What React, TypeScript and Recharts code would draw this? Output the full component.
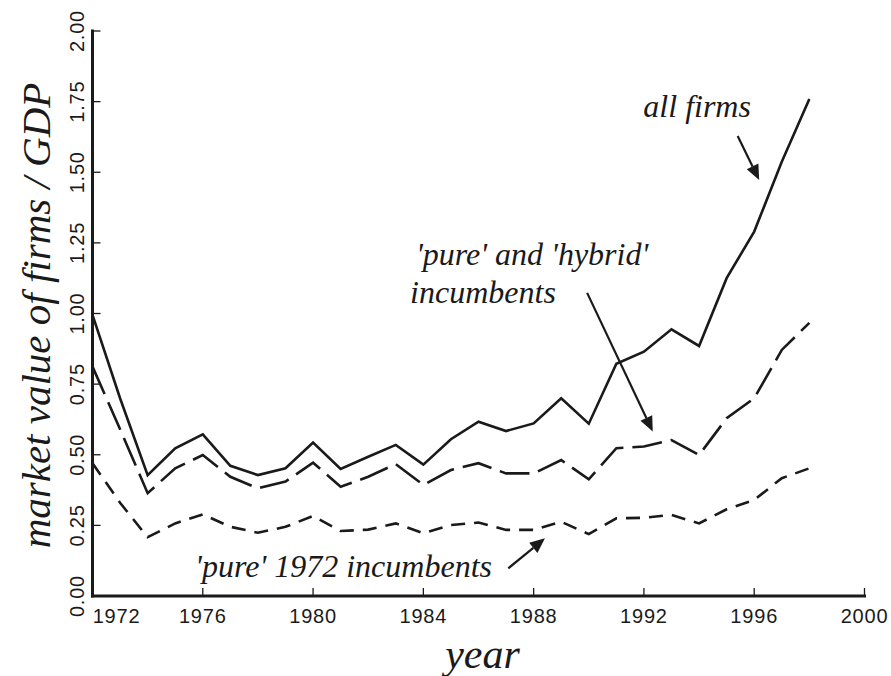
import React from 'react';
import { LineChart, Line, XAxis, YAxis, ReferenceLine, ReferenceDot } from 'recharts';

const years = [1972, 1973, 1974, 1975, 1976, 1977, 1978, 1979, 1980, 1981, 1982, 1983, 1984, 1985, 1986, 1987, 1988, 1989, 1990, 1991, 1992, 1993, 1994, 1995, 1996, 1997, 1998];
const allFirms = [0.995, 0.70, 0.428, 0.523, 0.572, 0.461, 0.428, 0.452, 0.543, 0.450, 0.493, 0.535, 0.465, 0.555, 0.617, 0.584, 0.611, 0.700, 0.610, 0.822, 0.865, 0.944, 0.885, 1.125, 1.290, 1.537, 1.759];
const pureHybrid = [0.812, 0.59, 0.364, 0.452, 0.499, 0.422, 0.381, 0.405, 0.472, 0.387, 0.422, 0.467, 0.393, 0.446, 0.470, 0.434, 0.434, 0.481, 0.413, 0.523, 0.529, 0.552, 0.499, 0.629, 0.700, 0.871, 0.967];
const pure1972 = [0.470, 0.33, 0.208, 0.257, 0.289, 0.245, 0.224, 0.245, 0.283, 0.230, 0.235, 0.257, 0.222, 0.251, 0.260, 0.234, 0.234, 0.263, 0.219, 0.275, 0.277, 0.287, 0.257, 0.307, 0.340, 0.417, 0.452];
const xTicks = [1972, 1976, 1980, 1984, 1988, 1992, 1996, 2000];
const yTicks = [0, 0.25, 0.5, 0.75, 1.0, 1.25, 1.5, 1.75, 2.0];

const data = years.map((year, i) => ({ year, all: allFirms[i], hybrid: pureHybrid[i], pure: pure1972[i] }));

const INK = '#1a1a1a';
const TICK_FONT = '"Liberation Sans", Arial, sans-serif';
const LABEL_FONT = '"Liberation Serif", "Times New Roman", serif';

const BottomTick = (props: any) => {
  const { x, y, payload, index } = props;
  const shift = index === 0 ? 24 : 0;
  return (
    <g>
      <line x1={x} y1={y} x2={x} y2={y - 8} stroke={INK} strokeWidth={1.3} />
      <text x={x + shift} y={y + 27} textAnchor="middle" fontFamily={TICK_FONT} fontSize={20} letterSpacing={0.8} fill={INK}>
        {payload.value}
      </text>
    </g>
  );
};

const LeftTick = (props: any) => {
  const { x, y, payload } = props;
  const cx = x - 15.5;
  return (
    <g>
      <line x1={x} y1={y} x2={x + 8} y2={y} stroke={INK} strokeWidth={1.3} />
      <text x={cx} y={y} dy="0.36em" textAnchor="middle" transform={`rotate(-90, ${cx}, ${y})`} fontFamily={TICK_FONT} fontSize={20} letterSpacing={0.8} fill={INK}>
        {Number(payload.value).toFixed(2)}
      </text>
    </g>
  );
};

const TopTick = (props: any) => {
  const { x, y } = props;
  return <line x1={x} y1={y} x2={x} y2={y + 8} stroke={INK} strokeWidth={1.3} />;
};

const RightTick = (props: any) => {
  const { x, y } = props;
  return <line x1={x} y1={y} x2={x - 8} y2={y} stroke={INK} strokeWidth={1.3} />;
};

const Arrow = (props: any) => {
  const { x1, y1, x2, y2 } = props;
  if ([x1, y1, x2, y2].some((v) => v == null || isNaN(v))) return null;
  const dx = x2 - x1;
  const dy = y2 - y1;
  const len = Math.sqrt(dx * dx + dy * dy);
  const ux = dx / len;
  const uy = dy / len;
  const head = 15;
  const half = 6.5;
  const bx = x2 - ux * head;
  const by = y2 - uy * head;
  const px = -uy;
  const py = ux;
  return (
    <g>
      <line x1={x1} y1={y1} x2={bx} y2={by} stroke={INK} strokeWidth={2.2} />
      <polygon points={`${x2},${y2} ${bx + px * half},${by + py * half} ${bx - px * half},${by - py * half}`} fill={INK} />
    </g>
  );
};

const makeText = (text: string, anchor: string) => (props: any) => {
  const { cx, cy } = props;
  return (
    <text x={cx} y={cy} textAnchor={anchor} fontFamily={LABEL_FONT} fontStyle="italic" fontSize={32} fill={INK}>
      {text}
    </text>
  );
};

const YLabel = (props: any) => {
  const vb = props.viewBox || {};
  const cx = 38;
  const cy = (vb.y ?? 31) + (vb.height ?? 565) / 2 + 2;
  return (
    <text x={cx} y={cy} dy="0.3em" textAnchor="middle" transform={`rotate(-90, ${cx}, ${cy})`} fontFamily={LABEL_FONT} fontStyle="italic" fontSize={41} fill={INK}>
      market value of firms / GDP
    </text>
  );
};

const XLabel = (props: any) => {
  const vb = props.viewBox || {};
  const cx = (vb.x ?? 92.5) + (vb.width ?? 772) / 2 + 4;
  return (
    <text x={cx} y={668} textAnchor="middle" fontFamily={LABEL_FONT} fontStyle="italic" fontSize={42} fill={INK}>
      year
    </text>
  );
};

const axisLineStyle = { stroke: INK, strokeWidth: 3, strokeLinecap: 'square' as const };

export default function App() {
  return (
    <div style={{ position: 'absolute', left: 0, top: 0, width: 891, height: 676, background: '#fff' }}>
      <LineChart width={891} height={676} data={data} margin={{ top: 31, right: 26.5, bottom: 0, left: 0 }}>
        <XAxis dataKey="year" type="number" domain={[1972, 2000]} ticks={xTicks} interval={0} height={80} tickSize={0} tickMargin={0} tickLine={false} axisLine={axisLineStyle} tick={<BottomTick />} label={<XLabel />} />
        <XAxis xAxisId="top" orientation="top" dataKey="year" type="number" domain={[1972, 2000]} ticks={xTicks} interval={0} height={0} tickSize={0} tickMargin={0} tickLine={false} axisLine={axisLineStyle} tick={<TopTick />} />
        <YAxis type="number" domain={[0, 2]} ticks={yTicks} interval={0} width={92.5} tickSize={0} tickMargin={0} tickLine={false} axisLine={axisLineStyle} tick={<LeftTick />} label={<YLabel />} />
        <YAxis yAxisId="right" orientation="right" type="number" domain={[0, 2]} ticks={yTicks} interval={0} width={0} tickSize={0} tickMargin={0} tickLine={false} axisLine={axisLineStyle} tick={<RightTick />} />
        <Line dataKey="pure" stroke={INK} strokeWidth={2.6} strokeDasharray="14 9" dot={false} isAnimationActive={false} />
        <Line dataKey="hybrid" stroke={INK} strokeWidth={2.6} strokeDasharray="30 9" dot={false} isAnimationActive={false} />
        <Line dataKey="all" stroke={INK} strokeWidth={2.6} dot={false} isAnimationActive={false} />
        <ReferenceLine segment={[{ x: 1995.4, y: 1.628 }, { x: 1996.18, y: 1.473 }]} shape={<Arrow />} />
        <ReferenceLine segment={[{ x: 1989.94, y: 1.073 }, { x: 1992.32, y: 0.582 }]} shape={<Arrow />} />
        <ReferenceLine segment={[{ x: 1987.08, y: 0.098 }, { x: 1988.41, y: 0.204 }]} shape={<Arrow />} />
        <ReferenceDot x={1993.93} y={1.696} r={0} shape={makeText('all firms', 'middle')} />
        <ReferenceDot x={1983.73} y={1.172} r={0} shape={makeText("'pure' and 'hybrid'", 'start')} />
        <ReferenceDot x={1983.52} y={1.037} r={0} shape={makeText('incumbents', 'start')} />
        <ReferenceDot x={1975.72} y={0.067} r={0} shape={makeText("'pure' 1972 incumbents", 'start')} />
      </LineChart>
    </div>
  );
}
